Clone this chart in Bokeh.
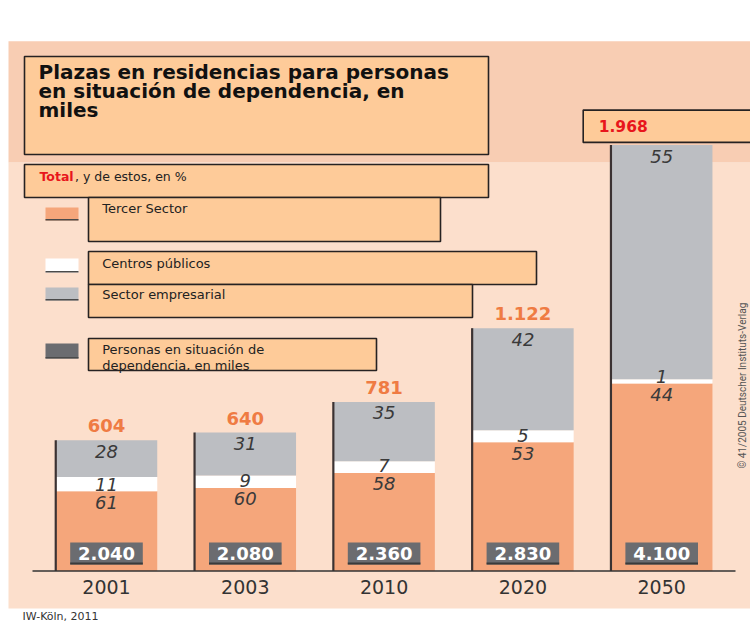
import numpy as np
from bokeh.plotting import figure
from bokeh.models import Range1d, ColumnDataSource
from bokeh.core.properties import value
from bokeh.embed import file_html
from bokeh.resources import INLINE

# ---------------- data ----------------
years = ["2001", "2003", "2010", "2020", "2050"]
total_places = [604, 640, 781, 1122, 1968]          # plazas, miles
share_tercer = [61, 60, 58, 53, 44]                  # %
share_publico = [11, 9, 7, 5, 1]                     # %
share_empresarial = [28, 31, 35, 42, 55]             # %
dependientes = [2040, 2080, 2360, 2830, 4100]        # personas, miles

series_names = ["Tercer Sector", "Centros públicos", "Sector empresarial"]
dep_lines = ["Personas en situación de", "dependencia, en miles"]
title_lines = ["Plazas en residencias para personas",
               "en situación de dependencia, en", "miles"]
subtitle_bold = "Total"
subtitle_rest = ", y de estos, en %"
source_note = "IW-Köln, 2011"
copyright_note = "© 41/2005 Deutscher Instituts-Verlag"

# ---------------- style ----------------
C_TER = "#f5a67b"
C_PUB = "#ffffff"
C_EMP = "#bcbec2"
C_DEP = "#6b6c70"
C_BG_TOP = "#f8cdb3"
C_BG = "#fcdfcc"
C_BOX = "#fecb99"
C_BORDER = "#262222"
C_TOTAL = "#ef7b43"
C_RED = "#e8161c"
C_TXT = "#333333"
F = value("DejaVu Sans")

W, H = 750, 621
X_FIRST, X_STEP = 106.0, 138.8        # px of first bar centre, spacing
BASE_Y = 570.5                         # px (from top) of value 0
PX_PER_K = 0.2164                      # px per thousand places
BAR_W_PX = 101.5

ux = 1.0 / X_STEP
uy = 1.0 / PX_PER_K
x_start = -X_FIRST * ux
x_end = x_start + W * ux
y_start = -(H - BASE_Y) * uy
y_end = y_start + H * uy

p = figure(width=W, height=H, x_range=Range1d(x_start, x_end),
           y_range=Range1d(y_start, y_end), output_backend="svg",
           toolbar_location=None, min_border=0,
           x_axis_location=None, y_axis_location=None)
p.outline_line_color = None
p.background_fill_color = "white"
p.border_fill_color = "white"
p.xgrid.visible = False
p.ygrid.visible = False
p.extra_x_ranges = {"px": Range1d(0, W)}
p.extra_y_ranges = {"px": Range1d(H, 0)}
PX = dict(x_range_name="px", y_range_name="px")

# ---------------- background ----------------
p.quad(left=[8], right=[W], top=[162], bottom=[608], fill_color=C_BG, line_color=None, **PX)
p.quad(left=[8], right=[W], top=[40.7], bottom=[162], fill_color=C_BG_TOP, line_color=None, **PX)

# ---------------- boxes (title / legend) ----------------
boxes = dict(left=[24, 24, 88, 88, 88, 88],
             right=[488, 488, 440, 536, 472, 376],
             top=[56, 164, 197, 251, 284, 338],
             bottom=[154, 197, 241, 284, 317, 370])
p.quad(**boxes, fill_color=C_BOX, line_color=C_BORDER, line_width=1.6, **PX)

p.text(x=[38] * 3, y=[71.2, 90.5, 109.7], text=title_lines, text_font=F, text_font_style="bold",
       text_font_size="20px", text_color="#111111", text_baseline="middle", **PX)
p.text(x=[39], y=[176], text=[subtitle_bold], text_font=F, text_font_style="bold",
       text_font_size="12.5px", text_color=C_RED, text_baseline="middle", **PX)
p.text(x=[74.5], y=[176], text=[subtitle_rest], text_font=F,
       text_font_size="12.5px", text_color="#222222", text_baseline="middle", **PX)

# legend swatches
sw = dict(left=[45] * 4, right=[78] * 4, top=[207, 258, 287, 343], bottom=[220, 272, 300, 358])
p.quad(**sw, fill_color=[C_TER, C_PUB, C_EMP, C_DEP], line_color=None, **PX)
p.segment(x0=[45] * 4, x1=[78] * 4, y0=[219.3, 271.3, 299.3, 357.3], y1=[219.3, 271.3, 299.3, 357.3],
          line_color="#4a4a4a", line_width=1.6, **PX)
leg_text = series_names + dep_lines
p.text(x=[101.7] * 5, y=[207.5, 262.5, 294, 349.3, 364.5], text=leg_text, text_font=F,
       text_font_size="13px", text_color="#222222", text_baseline="middle", **PX)

# ---------------- bars ----------------
idx = np.arange(len(years), dtype=float)
tot = np.array(total_places, dtype=float)
t_ter = tot * np.array(share_tercer) / 100.0
t_pub = t_ter + tot * np.array(share_publico) / 100.0
t_emp = t_pub + tot * np.array(share_empresarial) / 100.0
bw = BAR_W_PX * ux

src = ColumnDataSource(dict(
    x=idx, tot=tot, t_ter=t_ter, t_pub=t_pub, t_emp=t_emp, year=years,
    s_ter=[str(v) for v in share_tercer], s_pub=[str(v) for v in share_publico],
    s_emp=[str(v) for v in share_empresarial],
    dep=[f"{v:,}".replace(",", ".") for v in dependientes],
    tot_lab=[f"{v:,}".replace(",", ".") for v in total_places],
    xl=idx - bw / 2,
))

p.vbar(x="x", width=bw, bottom=0, top="t_ter", fill_color=C_TER, line_color=None, source=src)
p.vbar(x="x", width=bw, bottom="t_ter", top="t_pub", fill_color=C_PUB, line_color=None, source=src)
p.vbar(x="x", width=bw, bottom="t_pub", top="t_emp", fill_color=C_EMP, line_color=None, source=src)
p.segment(x0="xl", y0=0, x1="xl", y1="tot", line_color="#3b3232", line_width=2.2, source=src)

# dependent-persons boxes at the foot of each bar
hb = 36.3 * ux
p.quad(left=idx - hb, right=idx + hb, bottom=[6.5 * uy] * len(idx), top=[28.5 * uy] * len(idx),
       fill_color=C_DEP, line_color=None)
p.segment(x0=idx - hb, x1=idx + hb, y0=[7.5 * uy] * len(idx), y1=[7.5 * uy] * len(idx),
          line_color="#3a3a3a", line_width=2)
p.text(x="x", y=0, text="dep", source=src, y_offset=-17.5, text_align="center",
       text_baseline="middle", text_font=F, text_font_style="bold", text_font_size="18px",
       text_color="white")

# share labels
common = dict(source=src, text_align="center", text_font=F, text_font_style="italic",
              text_font_size="18px", text_color="#3a3a3a", text_baseline="middle")
p.text(x="x", y="t_emp", text="s_emp", y_offset=11, **common)
p.text(x="x", y="t_ter", text="s_pub", y_offset=-7, **common)
p.text(x="x", y="t_ter", text="s_ter", y_offset=11, **common)

# totals
n = len(years)
p.text(x=idx[:n - 1], y=tot[:n - 1], text=src.data["tot_lab"][:n - 1], y_offset=-14.5,
       text_align="center", text_baseline="middle", text_font=F, text_font_style="bold",
       text_font_size="18px", text_color=C_TOTAL)
# highlighted last total in a box
p.quad(left=[idx[-1] - 78.5 * ux], right=[x_end + 0.1], bottom=[tot[-1] + 2.7 * uy],
       top=[tot[-1] + 35 * uy], fill_color=C_BOX, line_color=C_BORDER, line_width=1.6)
p.text(x=[idx[-1]], y=[tot[-1]], text=[src.data["tot_lab"][-1]], x_offset=-63, y_offset=-19.4,
       text_align="left", text_baseline="middle", text_font=F, text_font_style="bold",
       text_font_size="15.5px", text_color=C_RED)

# baseline and year labels
p.segment(x0=[32], x1=[735], y0=[BASE_Y], y1=[BASE_Y], line_color="#333333", line_width=1.6, **PX)
p.text(x="x", y=0, text="year", source=src, y_offset=16, text_align="center",
       text_baseline="middle", text_font=F, text_font_size="19px", text_color=C_TXT)

# notes
p.text(x=[22], y=[615.5], text=[source_note], text_font=F, text_font_size="11px",
       text_color="#333333", text_baseline="middle", **PX)
p.text(x=[742], y=[468], text=[copyright_note], angle=np.pi / 2, text_font=value("Roboto"),
       text_font_size="10px", text_color="#555555", text_align="left",
       text_baseline="middle", **PX)

open("out.html", "w").write(file_html(p, INLINE))
